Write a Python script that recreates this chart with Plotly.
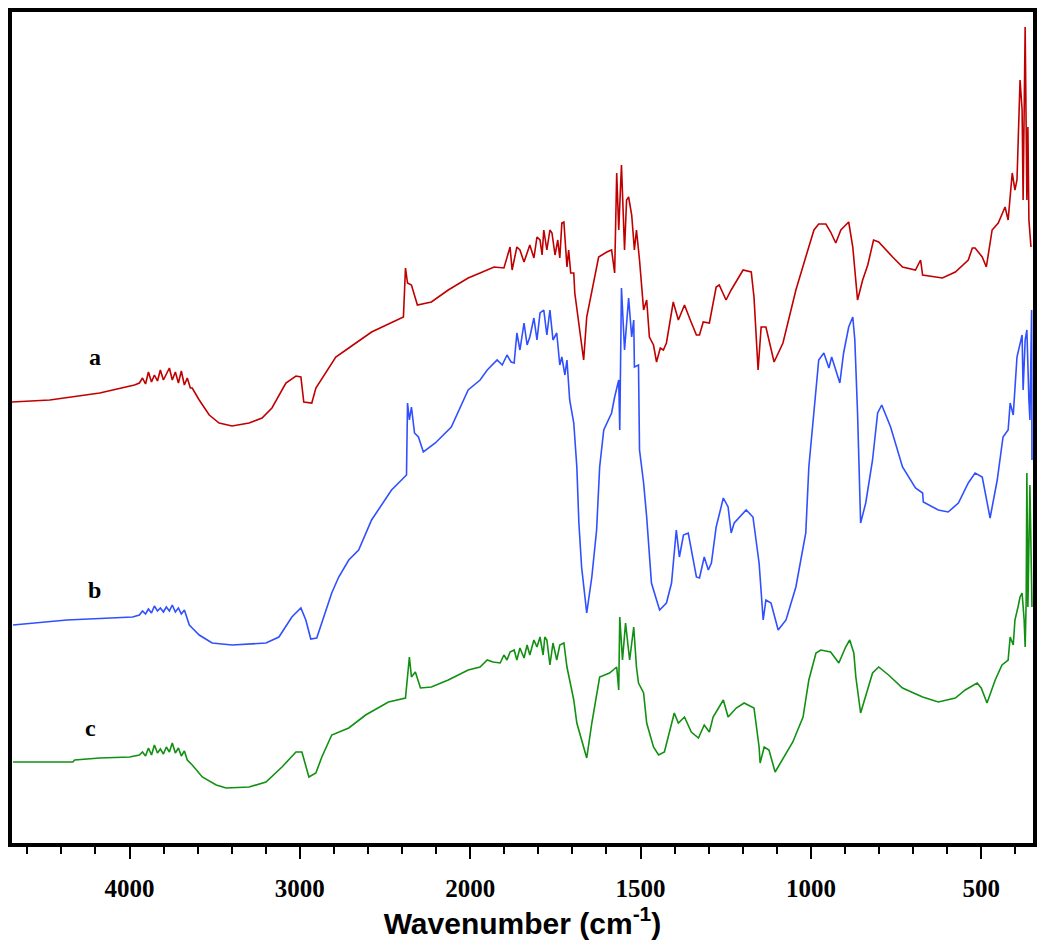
import plotly.graph_objects as go

# ---- data: wavenumber (cm-1) and transmittance (a.u., offset spectra) ----
wn_a = [4690, 4468, 4175, 3971, 3942, 3924, 3906, 3889, 3871, 3854, 3836, 3819, 3801, 3784, 3766, 3749,
        3731, 3713, 3696, 3678, 3661, 3643, 3632, 3591, 3532, 3474, 3398, 3298, 3222, 3164, 3082, 3023,
        2994, 2977, 2930, 2906, 2848, 2789, 2713, 2579, 2392, 2380, 2368, 2345, 2310, 2228, 2129, 2012,
        1971, 1930, 1901, 1883, 1877, 1863, 1854, 1842, 1825, 1813, 1804, 1795, 1789, 1784, 1775, 1766,
        1760, 1751, 1743, 1737, 1731, 1725, 1716, 1711, 1705, 1696, 1693, 1678, 1667, 1658, 1637, 1623,
        1599, 1585, 1576, 1570, 1564, 1556, 1547, 1541, 1535, 1526, 1518, 1512, 1503, 1491, 1482, 1474,
        1462, 1453, 1442, 1433, 1424, 1404, 1389, 1371, 1354, 1336, 1327, 1316, 1298, 1278, 1269, 1249,
        1234, 1199, 1175, 1167, 1155, 1146, 1132, 1108, 1082, 1044, 1015, 991, 977, 956, 942, 927, 912,
        889, 877, 863, 848, 833, 816, 801, 760, 731, 693, 678, 672, 614, 576, 538, 526, 518, 497, 485,
        468, 450, 430, 421, 409, 401, 395, 386, 380, 377, 371, 366, 363, 360, 354]
t_a = [44.1, 44.3, 45.0, 45.8, 46.0, 46.5, 45.9, 47.1, 46.1, 46.8, 46.2, 47.3, 46.3, 46.9, 47.5, 46.3,
       47.1, 46.0, 47.2, 45.8, 46.5, 45.5, 45.5, 44.3, 42.8, 42.0, 41.7, 42.0, 42.5, 43.5, 46.0, 46.7,
       46.6, 44.1, 44.0, 45.5, 47.0, 48.6, 49.5, 51.1, 52.6, 57.5, 56.0, 55.8, 53.8, 54.1, 55.3, 56.5,
       57.0, 57.6, 57.5, 59.6, 57.3, 59.6, 59.3, 58.1, 59.8, 58.5, 60.6, 60.3, 58.8, 61.3, 59.3, 61.3,
       61.0, 58.8, 60.3, 58.5, 62.0, 62.1, 57.6, 59.3, 57.0, 57.0, 55.0, 51.3, 48.3, 52.6, 56.0, 58.6,
       59.1, 59.3, 57.0, 67.0, 61.3, 67.8, 59.3, 64.3, 64.6, 62.8, 59.3, 61.3, 58.3, 53.3, 54.3, 50.6,
       49.8, 48.1, 49.5, 49.3, 50.0, 54.1, 52.3, 53.8, 52.3, 50.8, 50.8, 52.1, 52.0, 55.6, 55.8, 54.3,
       55.3, 57.3, 57.1, 54.6, 47.3, 51.6, 51.6, 48.1, 50.0, 55.3, 58.6, 61.3, 61.9, 61.9, 61.1, 60.0, 61.3,
       62.1, 59.6, 54.3, 56.3, 57.8, 60.3, 60.1, 58.6, 57.6, 57.3, 58.3, 56.8, 56.5, 57.1, 58.3, 59.5, 59.5, 58.6, 57.6,
       61.3, 62.0, 63.6, 62.3, 67.0, 65.3, 66.3, 76.3, 73.3, 64.3, 81.6, 64.3, 71.6, 62.3, 59.6]

wn_b = [4684, 4368, 3982, 3942, 3924, 3906, 3889, 3871, 3854, 3836, 3819, 3801, 3784, 3766, 3749, 3731,
        3713, 3696, 3678, 3661, 3649, 3632, 3591, 3515, 3398, 3199, 3123, 3047, 2994, 2965, 2936, 2901,
        2871, 2813, 2772, 2713, 2655, 2579, 2462, 2374, 2368, 2357, 2345, 2327, 2304, 2275, 2205, 2111,
        2012, 1971, 1950, 1921, 1906, 1892, 1880, 1871, 1863, 1854, 1842, 1833, 1825, 1813, 1804, 1795,
        1784, 1775, 1766, 1757, 1746, 1737, 1731, 1722, 1716, 1711, 1708, 1696, 1687, 1681, 1673, 1658,
        1643, 1629, 1620, 1608, 1585, 1576, 1564, 1561, 1556, 1547, 1541, 1535, 1526, 1520, 1518, 1506,
        1503, 1491, 1482, 1468, 1453, 1444, 1424, 1409, 1395, 1386, 1374, 1360, 1336, 1327, 1313, 1301,
        1292, 1278, 1257, 1243, 1234, 1225, 1190, 1170, 1152, 1140, 1132, 1117, 1096, 1073, 1044, 1015,
        1006, 994, 985, 977, 962, 947, 939, 927, 915, 904, 889, 877, 871, 863, 854, 839, 819, 804, 792,
        766, 731, 693, 672, 670, 655, 626, 597, 567, 538, 518, 497, 474, 453, 436, 421, 415, 406, 395,
        380, 377, 371, 366, 360, 357, 352, 351]
t_b = [21.8, 22.3, 22.6, 22.8, 23.2, 22.9, 23.4, 23.0, 23.7, 23.2, 23.5, 23.1, 23.6, 23.2, 23.8, 23.1,
       23.5, 22.9, 23.3, 22.5, 21.8, 21.5, 20.8, 20.0, 19.8, 20.0, 20.6, 22.6, 23.5, 22.3, 20.4, 20.5,
       22.0, 25.0, 26.6, 28.3, 29.3, 32.3, 35.3, 36.8, 44.0, 42.3, 43.6, 41.0, 40.6, 39.1, 40.0, 41.6,
       45.3, 46.3, 47.3, 48.3, 47.8, 48.8, 48.1, 48.0, 51.0, 49.3, 52.0, 49.8, 50.6, 52.5, 50.3, 53.0,
       53.3, 50.8, 53.3, 50.3, 51.0, 47.8, 48.6, 46.8, 48.3, 46.3, 44.3, 42.0, 37.6, 32.0, 27.6, 23.0,
       26.6, 31.3, 37.6, 41.3, 43.0, 44.6, 46.3, 41.3, 55.5, 49.3, 52.3, 54.5, 50.6, 52.3, 47.6, 47.8,
       39.3, 36.0, 32.6, 26.0, 24.3, 23.3, 24.0, 26.0, 31.3, 28.6, 30.8, 31.0, 26.6, 26.5, 28.6, 27.3,
       28.0, 31.6, 34.5, 33.6, 31.0, 32.0, 33.3, 32.6, 28.0, 22.3, 24.3, 24.0, 21.3, 22.3, 25.6, 31.0,
       37.6, 42.0, 45.0, 48.3, 49.0, 47.5, 48.6, 47.3, 46.0, 49.0, 51.6, 52.6, 50.3, 43.0, 32.0, 34.0, 38.3, 43.0, 43.8,
       41.6, 37.6, 35.5, 35.0, 34.1, 33.8, 33.3, 33.1, 34.0, 36.0, 37.0, 36.6, 32.5, 36.3, 40.6, 41.3, 44.0, 42.8, 48.6,
       50.8, 45.3, 50.3, 51.3, 44.3, 42.3, 53.3, 38.3]

wn_c = [4684, 4333, 4322, 4175, 3999, 3942, 3924, 3906, 3889, 3871, 3854, 3836, 3819, 3801, 3784, 3766,
        3749, 3731, 3713, 3696, 3678, 3661, 3632, 3573, 3491, 3433, 3298, 3199, 3105, 3023, 2988, 2947,
        2906, 2871, 2813, 2713, 2614, 2480, 2380, 2368, 2357, 2345, 2322, 2292, 2228, 2129, 2012, 1971,
        1950, 1933, 1912, 1901, 1892, 1883, 1871, 1863, 1854, 1842, 1833, 1825, 1813, 1804, 1795, 1786,
        1781, 1775, 1766, 1757, 1746, 1737, 1725, 1716, 1708, 1696, 1687, 1673, 1658, 1643, 1629, 1620,
        1591, 1570, 1564, 1561, 1553, 1544, 1532, 1520, 1512, 1506, 1491, 1482, 1462, 1447, 1430, 1415,
        1401, 1389, 1371, 1351, 1330, 1313, 1298, 1287, 1257, 1243, 1219, 1196, 1167, 1152, 1149, 1137,
        1123, 1105, 1079, 1053, 1023, 1006, 985, 971, 942, 918, 898, 886, 874, 868, 854, 833, 819, 801,
        772, 731, 672, 626, 576, 547, 512, 500, 483, 459, 439, 421, 415, 406, 401, 392, 386, 380, 374,
        371, 368, 366, 363, 357, 351]
t_c = [8.1, 8.1, 8.3, 8.5, 8.6, 8.8, 9.1, 8.7, 9.5, 8.8, 9.8, 9.0, 9.4, 8.9, 9.6, 9.1,
       10.0, 9.0, 9.5, 8.7, 9.2, 8.3, 7.8, 6.6, 5.8, 5.5, 5.6, 6.1, 7.6, 9.1, 9.1, 6.6,
       7.0, 8.6, 10.8, 11.5, 12.8, 14.1, 14.5, 16.3, 18.6, 16.6, 17.1, 15.5, 15.6, 16.3, 17.3, 17.6,
       18.3, 18.1, 18.0, 18.8, 18.3, 19.1, 19.3, 18.3, 19.5, 18.5, 19.8, 18.8, 20.3, 19.6, 20.6, 18.8,
       20.6, 20.3, 17.8, 20.0, 18.3, 19.8, 20.0, 17.6, 16.3, 14.3, 12.0, 10.3, 8.5, 12.0, 15.0, 16.6,
       17.0, 17.6, 15.3, 22.6, 18.3, 22.0, 18.3, 21.6, 17.6, 16.0, 15.0, 12.0, 9.6, 8.8, 9.1, 11.0,
       13.0, 12.0, 12.6, 11.1, 10.5, 11.8, 11.1, 12.6, 14.3, 12.6, 13.5, 14.0, 13.5, 9.6, 8.0, 9.6,
       9.3, 7.1, 8.6, 10.1, 12.6, 16.3, 19.0, 19.3, 19.1, 18.0, 19.6, 20.3, 19.0, 16.6, 13.0, 15.5, 17.0, 17.6,
       16.8, 15.5, 14.6, 14.1, 14.5, 15.3, 16.0, 15.5, 14.0, 16.3, 17.8, 18.3, 20.6, 19.8, 22.3, 23.6, 24.6, 25.0, 22.3,
       19.6, 24.3, 37.0, 23.6, 35.8, 23.6]

tick_wn = [4000, 3000, 2000, 1500, 1000, 500]
series_labels = ["a", "b", "c"]
label_pos = [(4205, 48.6), (4205, 25.3), (4230, 11.5)]
colors = ["#C00000", "#3050FF", "#119011"]


def axis_pos(w):
    """Spectrometer scale: above 2000 cm-1 the scale is compressed by a factor 2."""
    return w if w <= 2000 else 2000 + (w - 2000) / 2


fig = go.Figure()
for wn, t, col in zip([wn_a, wn_b, wn_c], [t_a, t_b, t_c], colors):
    fig.add_trace(go.Scatter(x=[axis_pos(w) for w in wn], y=t, mode="lines",
                             line=dict(color=col, width=1.6), showlegend=False))

for lab, (w, t) in zip(series_labels, label_pos):
    fig.add_annotation(x=axis_pos(w), y=t, text=f"<b>{lab}</b>", showarrow=False,
                       font=dict(family="Liberation Serif", size=24, color="black"))

fig.update_layout(
    width=1042, height=943,
    margin=dict(l=12, r=5, t=12, b=100),
    paper_bgcolor="white", plot_bgcolor="white",
    xaxis=dict(
        range=[3345, 348],
        tickmode="array",
        tickvals=[axis_pos(w) for w in tick_wn],
        ticktext=[f"<b>{w}</b>" for w in tick_wn],
        ticks="outside", ticklen=12, tickwidth=2, tickcolor="black",
        minor=dict(dtick=100, tick0=0, ticks="outside", ticklen=7, tickwidth=2, tickcolor="black"),
        tickfont=dict(family="Liberation Serif", size=25, color="black"),
        ticklabelstandoff=8,
        showline=True, linewidth=4, linecolor="black", mirror=True,
        showgrid=False, zeroline=False,
        title=dict(text="<b>Wavenumber (cm<sup>-1</sup>)</b>",
                   font=dict(family="Liberation Sans", size=30, color="black"), standoff=10),
    ),
    yaxis=dict(
        range=[0, 83.1],
        showticklabels=False, ticks="",
        showline=True, linewidth=4, linecolor="black", mirror=True,
        showgrid=False, zeroline=False,
    ),
)

fig.write_html("out.html")
